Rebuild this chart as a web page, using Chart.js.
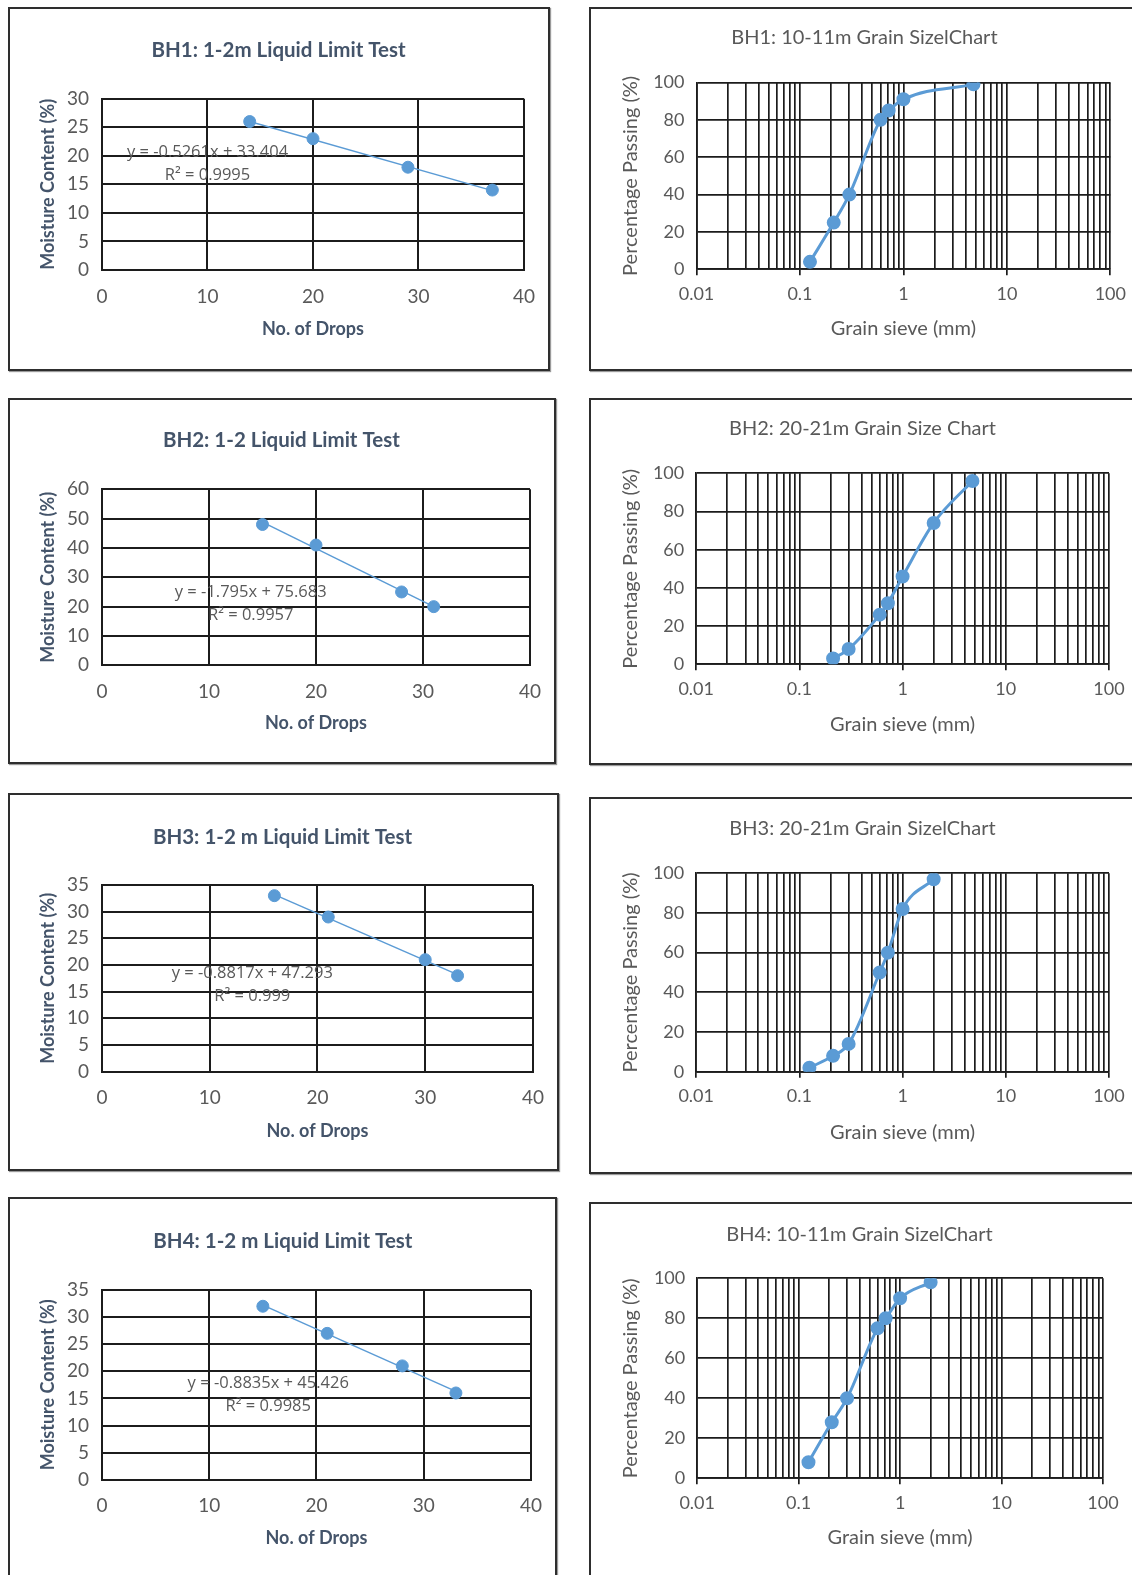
<!DOCTYPE html>
<html>
<head>
<meta charset="utf-8">
<script src="https://cdn.jsdelivr.net/npm/chart.js@4.4.1/dist/chart.umd.min.js"></script>
<style>
    body { margin: 0; background: #fff; width: 1132px; height: 1575px; position: relative; overflow: hidden; }
    canvas { position: absolute; }
    .frame { position: absolute; box-sizing: border-box; border: 2px solid #2e2e2e; box-shadow: 1px 1px 1px #9a9a9a; pointer-events: none; }
</style>
</head>
<body>
<canvas id="ll1"></canvas><canvas id="gs1"></canvas>
<canvas id="ll2"></canvas><canvas id="gs2"></canvas>
<canvas id="ll3"></canvas><canvas id="gs3"></canvas>
<canvas id="ll4"></canvas><canvas id="gs4"></canvas>
<script>
'use strict';

// ---- liquid limit tests (no. of drops vs moisture content) ----
const ll1Drops    = [14, 20, 29, 37];
const ll1Moisture = [26, 23, 18, 14];
const ll1Trend    = [26.0, 13.9];            // trendline at first / last drop count
const ll1Equation = ['y = -0.5261x + 33.404', 'R\u00B2 = 0.9995'];

const ll2Drops    = [15, 20, 28, 31];
const ll2Moisture = [48, 41, 25, 20];
const ll2Trend    = [48.8, 20.0];
const ll2Equation = ['y = -1.795x + 75.683', 'R\u00B2 = 0.9957'];

const ll3Drops    = [16, 21, 30, 33];
const ll3Moisture = [33, 29, 21, 18];
const ll3Trend    = [33.2, 18.2];
const ll3Equation = ['y = -0.8817x + 47.293', 'R\u00B2 = 0.999'];

const ll4Drops    = [15, 21, 28, 33];
const ll4Moisture = [32, 27, 21, 16];
const ll4Trend    = [32.2, 16.3];
const ll4Equation = ['y = -0.8835x + 45.426', 'R\u00B2 = 0.9985'];

const llDropTicks = [0, 10, 20, 30, 40];

// ---- grain size distributions (sieve mm vs % passing) ----
const gs1Sieve   = [0.125, 0.212, 0.3, 0.6, 0.72, 1, 4.75];
const gs1Passing = [4, 25, 40, 80, 85, 91, 99];

const gs2Sieve   = [0.212, 0.3, 0.6, 0.72, 1, 2, 4.75];
const gs2Passing = [3, 8, 26, 32, 46, 74, 96];

const gs3Sieve   = [0.125, 0.212, 0.3, 0.6, 0.72, 1, 2];
const gs3Passing = [2, 8, 14, 50, 60, 82, 97];

const gs4Sieve   = [0.125, 0.212, 0.3, 0.6, 0.72, 1, 2];
const gs4Passing = [8, 28, 40, 75, 80, 90, 98];

const sieveTickLabels = ['0.01', '0.1', '1', '10', '100'];
const sieveDecades    = [0.01, 0.1, 1, 10];
const sieveSteps      = [1, 2, 3, 4, 5, 6, 7, 8, 9];

const BLUE  = '#5B9BD5';
const GREY  = '#595959';
const SLATE = '#44546A';
const GRID  = '#1c1c1c';
const FONT  = 'Lato, "Open Sans", sans-serif';
const EQ_FONT = '16.5px "Open Sans", Lato, sans-serif';

// page-coordinate layout of every panel: outer frame, plot area, text anchors
const LAYOUT = {
    ll1: { panel: { x: 8,   y: 7,    w: 542, h: 364 }, plot: { l: 102,   t: 98.7,  r: 524,   b: 270 },    title: [278.6, 50],    yTitleX: 48,  xTitleY: 329 },
    gs1: { panel: { x: 589, y: 7,    w: 545, h: 364 }, plot: { l: 696.5, t: 82.5,  r: 1111.5, b: 269.3 }, title: [864.4, 37.3],  yTitleX: 631, xTitleY: 328.3 },
    ll2: { panel: { x: 8,   y: 398,  w: 548, h: 366 }, plot: { l: 102,   t: 489.3, r: 531.4, b: 665.3 },  title: [281.4, 440.7], yTitleX: 48,  xTitleY: 723.3 },
    gs2: { panel: { x: 589, y: 398,  w: 545, h: 367 }, plot: { l: 696.2, t: 473.3, r: 1109,  b: 664.3 },  title: [862.5, 428.3], yTitleX: 631, xTitleY: 725 },
    ll3: { panel: { x: 8,   y: 793,  w: 551, h: 378 }, plot: { l: 102,   t: 885,   r: 534.6, b: 1071.7 }, title: [282.5, 837.3], yTitleX: 48,  xTitleY: 1130.7 },
    gs3: { panel: { x: 589, y: 797,  w: 545, h: 377 }, plot: { l: 696.2, t: 873.3, r: 1109,  b: 1071.7 }, title: [862.5, 828.3], yTitleX: 631, xTitleY: 1132.7 },
    ll4: { panel: { x: 8,   y: 1197, w: 549, h: 400 }, plot: { l: 102,   t: 1290,  r: 534.6, b: 1479.7 }, title: [282.9, 1241.7], yTitleX: 48, xTitleY: 1538.3 },
    gs4: { panel: { x: 589, y: 1202, w: 545, h: 400 }, plot: { l: 697.2, t: 1278.3, r: 1103, b: 1478.3 }, title: [859.5, 1234.3], yTitleX: 631, xTitleY: 1537.7 },
};

// Works out layout padding / fixed scale sizes so the plot area lands where it should.
function fitFrame(id, sizes) {
    const { panel, plot, title, yTitleX, xTitleY } = LAYOUT[id];
    const canvas = document.getElementById(id);
    canvas.width = panel.w;
    canvas.height = panel.h;
    canvas.style.left = panel.x + 'px';
    canvas.style.top = panel.y + 'px';

    const frame = document.createElement('div');
    frame.className = 'frame';
    Object.assign(frame.style, { left: panel.x + 'px', top: panel.y + 'px', width: panel.w + 'px', height: panel.h + 'px' });
    document.body.appendChild(frame);

    const L = plot.l - panel.x, T = plot.t - panel.y, R = plot.r - panel.x, B = plot.b - panel.y;
    const padRight = panel.w - R;
    const padLeft = 2 * (title[0] - panel.x) - panel.w + padRight;
    const tLH = sizes.title * 1.2, aLH = sizes.axis * 1.2;
    const ty = title[1] - panel.y;
    return {
        canvas,
        padding: { left: padLeft, right: padRight, top: 0, bottom: 0 },
        yWidth: L - padLeft,
        xHeight: panel.h - B,
        titlePad: { top: ty - tLH / 2, bottom: T - ty - tLH / 2 },
        yTitlePad: (yTitleX - panel.x) - padLeft - aLH / 2,
        xTitlePad: panel.h - (xTitleY - panel.y) - aLH / 2,
    };
}

// regression equation text, anchored in data units
function equationPlugin(lines, at) {
    return {
        id: 'equationLabel',
        afterDatasetsDraw(chart) {
            const { ctx, scales: { x, y } } = chart;
            const px = x.getPixelForValue(at[0]);
            const py = y.getPixelForValue(at[1]);
            ctx.save();
            ctx.font = EQ_FONT;
            ctx.fillStyle = GREY;
            ctx.textAlign = 'center';
            ctx.textBaseline = 'middle';
            lines.forEach((t, i) => ctx.fillText(t, px, py + i * 23));
            ctx.restore();
        }
    };
}

function liquidLimitChart(id, titleText, drops, moisture, trend, yMax, yStep, equation, eqAt) {
    const sizes = { title: 20.5, axis: 18, ticks: 19 };
    const f = fitFrame(id, sizes);
    const last = drops.length - 1;
    new Chart(f.canvas, {
        type: 'scatter',
        data: {
            datasets: [
                {
                    data: drops.map((d, i) => ({ x: d, y: moisture[i] })),
                    backgroundColor: BLUE, borderColor: BLUE,
                    pointRadius: 6, showLine: false, order: 1
                },
                {
                    data: [{ x: drops[0], y: trend[0] }, { x: drops[last], y: trend[1] }],
                    borderColor: BLUE, borderWidth: 1.5,
                    pointRadius: 0, showLine: true, order: 2
                }
            ]
        },
        options: {
            responsive: false,
            animation: false,
            layout: { padding: f.padding },
            plugins: {
                legend: { display: false },
                tooltip: { enabled: false },
                title: {
                    display: true, text: titleText, color: SLATE,
                    font: { family: FONT, size: sizes.title, weight: 'bold' },
                    padding: f.titlePad
                }
            },
            scales: {
                x: {
                    type: 'linear', min: llDropTicks[0], max: llDropTicks[llDropTicks.length - 1],
                    afterBuildTicks: s => { s.ticks = llDropTicks.map(v => ({ value: v })); },
                    ticks: { color: GREY, font: { family: FONT, size: sizes.ticks }, padding: 15, maxRotation: 0 },
                    grid: { color: GRID, lineWidth: 2, drawTicks: false },
                    border: { color: GRID, width: 2 },
                    title: {
                        display: true, text: 'No. of Drops', color: SLATE,
                        font: { family: FONT, size: sizes.axis, weight: 'bold' },
                        padding: { top: 0, bottom: f.xTitlePad }
                    },
                    afterFit: s => { s.height = f.xHeight; }
                },
                y: {
                    min: 0, max: yMax,
                    ticks: { stepSize: yStep, color: GREY, font: { family: FONT, size: sizes.ticks }, padding: 13 },
                    grid: { color: GRID, lineWidth: 2, drawTicks: false },
                    border: { color: GRID, width: 2 },
                    title: {
                        display: true, text: 'Moisture Content (%)', color: SLATE,
                        font: { family: FONT, size: sizes.axis, weight: 'bold' },
                        padding: { top: f.yTitlePad, bottom: 0 }
                    },
                    afterFit: s => { s.width = f.yWidth; }
                }
            }
        },
        plugins: [equationPlugin(equation, eqAt)]
    });
}

const sieveGrid = sieveDecades.flatMap(d => sieveSteps.map(s => +(d * s).toPrecision(3))).concat([100]);

function grainSizeChart(id, titleText, sieve, passing) {
    const sizes = { title: 20, axis: 20, ticks: 18 };
    const f = fitFrame(id, sizes);
    new Chart(f.canvas, {
        type: 'scatter',
        data: {
            datasets: [{
                data: sieve.map((s, i) => ({ x: s, y: passing[i] })),
                backgroundColor: BLUE, borderColor: BLUE,
                borderWidth: 3, pointRadius: 5.5, showLine: true,
                cubicInterpolationMode: 'monotone'
            }]
        },
        options: {
            responsive: false,
            animation: false,
            layout: { padding: f.padding },
            plugins: {
                legend: { display: false },
                tooltip: { enabled: false },
                title: {
                    display: true, text: titleText, color: GREY,
                    font: { family: FONT, size: sizes.title, weight: 'normal' },
                    padding: f.titlePad
                }
            },
            scales: {
                x: {
                    type: 'logarithmic', min: 0.01, max: 100,
                    afterBuildTicks: s => { s.ticks = sieveGrid.map(v => ({ value: v })); },
                    ticks: {
                        autoSkip: false, maxRotation: 0, padding: 8,
                        color: GREY, font: { family: FONT, size: sizes.ticks },
                        callback: v => sieveTickLabels.find(t => Number(t) === v) || ''
                    },
                    grid: {
                        color: GRID, lineWidth: 1.7, tickLength: 6,
                        tickColor: c => sieveTickLabels.some(t => Number(t) === c.tick.value) ? GRID : 'rgba(0,0,0,0)'
                    },
                    border: { color: GRID, width: 1.7 },
                    title: {
                        display: true, text: 'Grain sieve (mm)', color: GREY,
                        font: { family: FONT, size: sizes.axis },
                        padding: { top: 0, bottom: f.xTitlePad }
                    },
                    afterFit: s => { s.height = f.xHeight; }
                },
                y: {
                    min: 0, max: 100,
                    ticks: { stepSize: 20, color: GREY, font: { family: FONT, size: sizes.ticks }, padding: 12 },
                    grid: { color: GRID, lineWidth: 1.7, drawTicks: false },
                    border: { color: GRID, width: 1.7 },
                    title: {
                        display: true, text: 'Percentage Passing (%)', color: GREY,
                        font: { family: FONT, size: sizes.axis },
                        padding: { top: f.yTitlePad, bottom: 0 }
                    },
                    afterFit: s => { s.width = f.yWidth; }
                }
            }
        }
    });
}

liquidLimitChart('ll1', 'BH1: 1-2m Liquid Limit Test', ll1Drops, ll1Moisture, ll1Trend, 30, 5, ll1Equation, [10.0, 20.7]);
liquidLimitChart('ll2', 'BH2: 1-2 Liquid Limit Test', ll2Drops, ll2Moisture, ll2Trend, 60, 10, ll2Equation, [13.9, 24.9]);
liquidLimitChart('ll3', 'BH3: 1-2 m Liquid Limit Test', ll3Drops, ll3Moisture, ll3Trend, 35, 5, ll3Equation, [13.95, 18.45]);
liquidLimitChart('ll4', 'BH4: 1-2 m Liquid Limit Test', ll4Drops, ll4Moisture, ll4Trend, 35, 5, ll4Equation, [15.5, 17.8]);

grainSizeChart('gs1', 'BH1: 10-11m Grain SizelChart', gs1Sieve, gs1Passing);
grainSizeChart('gs2', 'BH2: 20-21m Grain Size Chart', gs2Sieve, gs2Passing);
grainSizeChart('gs3', 'BH3: 20-21m Grain SizelChart', gs3Sieve, gs3Passing);
grainSizeChart('gs4', 'BH4: 10-11m Grain SizelChart', gs4Sieve, gs4Passing);
</script>
</body>
</html>
